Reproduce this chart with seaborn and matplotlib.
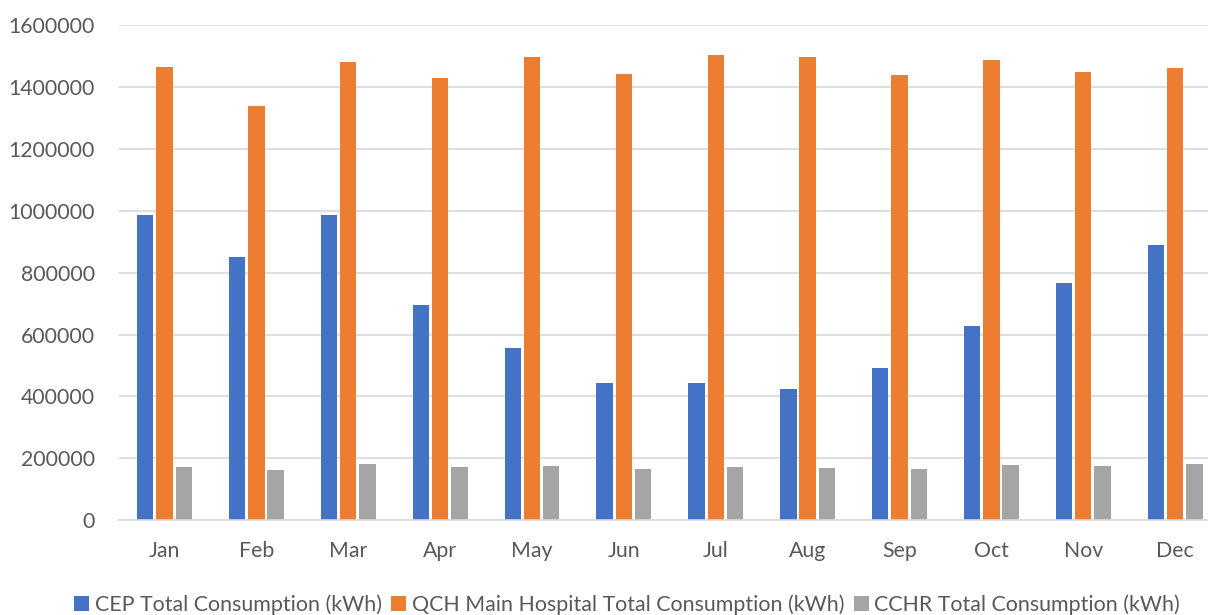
import numpy as np
import pandas as pd
import matplotlib
matplotlib.use("Agg")
import matplotlib.pyplot as plt
import seaborn as sns
from matplotlib.patches import Patch

months = ["Jan", "Feb", "Mar", "Apr", "May", "Jun", "Jul", "Aug", "Sep", "Oct", "Nov", "Dec"]
series_names = ["CEP Total Consumption (kWh)",
                "QCH Main Hospital Total Consumption (kWh)",
                "CCHR Total Consumption (kWh)"]
cep = [987000, 850500, 986000, 694500, 555600, 443500, 443500, 423000, 493000, 627700, 765500, 889300]
qch = [1464000, 1338000, 1479000, 1428000, 1496600, 1441600, 1502000, 1496600, 1437500, 1486000, 1447000, 1461000]
cchr = [171000, 162500, 182000, 173000, 176500, 164700, 173000, 168000, 167000, 179600, 174400, 181000]
colors = ["#4472C4", "#ED7D31", "#A5A5A5"]

df = pd.DataFrame({
    "Month": months * 3,
    "Series": [series_names[0]] * 12 + [series_names[1]] * 12 + [series_names[2]] * 12,
    "Value": cep + qch + cchr,
})

sns.set_style("white")
plt.rcParams["font.family"] = ["Lato", "DejaVu Sans"]

W, H = 1208, 615
fig = plt.figure(figsize=(W / 100, H / 100), dpi=100)
left, right = 118.6 / W, 1221 / W
bottom, top = 1 - 520.3 / H, 1 - 25 / H
ax = fig.add_axes([left, bottom, right - left, top - bottom])

sns.barplot(data=df, x="Month", y="Value", hue="Series", order=months,
            hue_order=series_names, palette=colors, width=0.63, gap=0.15,
            saturation=1, errorbar=None, ax=ax, legend=False,
            edgecolor="none")

ax.set_xlim(-0.5, 11.5)
ax.set_ylim(0, 1600000)
ax.set_yticks(np.arange(0, 1600001, 200000))
ax.set_yticklabels([str(v) for v in range(0, 1600001, 200000)])
ax.yaxis.grid(True, color="#D9D9D9", linewidth=1.2)
ax.set_axisbelow(True)
for s in ["top", "right", "left"]:
    ax.spines[s].set_visible(False)
ax.spines["bottom"].set_color("#D9D9D9")
ax.spines["bottom"].set_linewidth(1.2)
ax.tick_params(axis="both", length=0, labelsize=15.3, labelcolor="#595959")
ax.tick_params(axis="y", pad=17)
ax.tick_params(axis="x", pad=15)
ax.set_xlabel("")
ax.set_ylabel("")

handles = [Patch(facecolor=c, edgecolor="none") for c in colors]
fig.legend(handles, series_names, loc="lower center", bbox_to_anchor=(627 / W, -0.014),
           ncol=3, frameon=False, fontsize=15.4, labelcolor="#595959",
           handlelength=0.7, handleheight=0.7, handletextpad=0.25, columnspacing=0.45,
           borderaxespad=0)

fig.savefig("out.png", dpi=100)
